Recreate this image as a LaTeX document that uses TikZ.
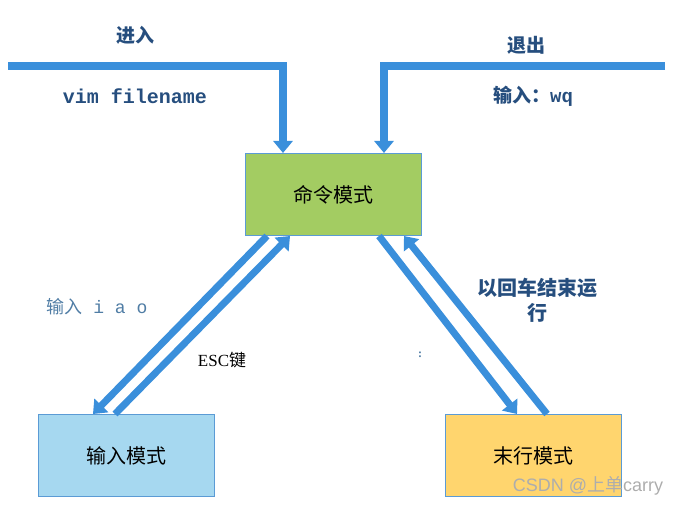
\documentclass[tikz,border=0pt]{standalone}
\usepackage{fontspec}
\setmainfont{Liberation Serif}
\setmonofont{Liberation Mono}
\newfontfamily\cjk{Noto Sans CJK SC}
\newfontfamily\wmfont{Liberation Sans}
\usepackage{tikz}
\usetikzlibrary{
  arrows.meta,
  positioning
}
\definecolor{vimblue}{RGB}{58,143,219}
\definecolor{vimedge}{RGB}{91,155,213}
\definecolor{vimgreen}{RGB}{163,204,98}
\definecolor{vimsky}{RGB}{166,216,240}
\definecolor{vimgold}{RGB}{255,213,110}
\definecolor{vimtext}{RGB}{38,78,126}
\definecolor{vimsoft}{RGB}{80,125,165}
\tikzset{
  vimMode/.style={
    rectangle,
    draw=vimedge,
    line width=1pt,
    minimum width=176pt,
    minimum height=82pt,
    inner sep=0pt,
    font=\cjk\fontsize{20}{22}\selectfont,
    anchor=north west
  },
  vimArrow/.style={
    -{Triangle[length=12pt,width=19pt]},
    line width=7pt,
    draw=vimblue
  },
  vimLabel/.style={
    text=vimtext,
    inner sep=0pt,
    align=center
  }
}

\begin{document}
\begin{tikzpicture}[x=1pt,y=-1pt]
  \useasboundingbox (0,0) rectangle (684,505);

  \node[vimMode, fill=vimgreen] (cmd) at (245,153) {命令模式};
  \node[vimMode, fill=vimsky] (insert) at (38,414) {输入模式};
  \node[vimMode, fill=vimgold] (lastline) at (445,414) {末行模式};

  \coordinate (enterStart) at (8,66);
  \coordinate (quitStart) at (665,66);

  % enter and quit
  \draw[vimArrow, line width=8pt] (enterStart) -| ([xshift=38pt]cmd.north west);
  \draw[vimArrow, line width=8pt] (quitStart) -| ([xshift=-38pt]cmd.north east);

  % command <-> insert
  \draw[vimArrow] ([xshift=22pt]cmd.south west) -- ([xshift=55pt]insert.north west);
  \draw[vimArrow] ([xshift=77pt]insert.north west) -- ([xshift=45pt]cmd.south west);

  % command <-> last line
  \draw[vimArrow] ([xshift=-43pt]cmd.south east) -- ([xshift=72pt]lastline.north west);
  \draw[vimArrow] ([xshift=102pt]lastline.north west) -- ([xshift=-18pt]cmd.south east);

  \node[vimLabel, font=\cjk\bfseries\fontsize{19}{21}\selectfont] (enterLbl) at (135,35) {进入};
  \node[vimLabel, font=\ttfamily\bfseries\fontsize{20}{22}\selectfont] (vimLbl) at (135,96) {vim filename};
  \node[vimLabel, font=\cjk\bfseries\fontsize{19}{21}\selectfont] (quitLbl) at (526,45) {退出};
  \node[vimLabel, font=\fontsize{19}{21}\selectfont] (wqLbl) at (533,96)
    {{\cjk\bfseries 输入：}{\ttfamily\bfseries wq}};
  \node[vimLabel, text=vimsoft, font=\fontsize{18}{20}\selectfont] (iaoLbl) at (97,307)
    {{\cjk 输入}\ttfamily\ i a o};
  \node[vimLabel, text=black, font=\fontsize{17}{19}\selectfont] (escLbl) at (222,360) {ESC{\cjk 键}};
  \node[vimLabel, font=\cjk\bfseries\fontsize{20}{25}\selectfont] (runLbl) at (537,300)
    {以回车结束运\\行};
  \node[vimLabel, text=vimsoft, font=\bfseries\fontsize{12}{14}\selectfont] (colonLbl) at (420,355) {:};
  \node[text=black!32, inner sep=0pt, font=\wmfont\fontsize{18}{20}\selectfont] (markLbl) at (588,486)
    {CSDN @{\cjk 上单}carry};
\end{tikzpicture}
\end{document}
